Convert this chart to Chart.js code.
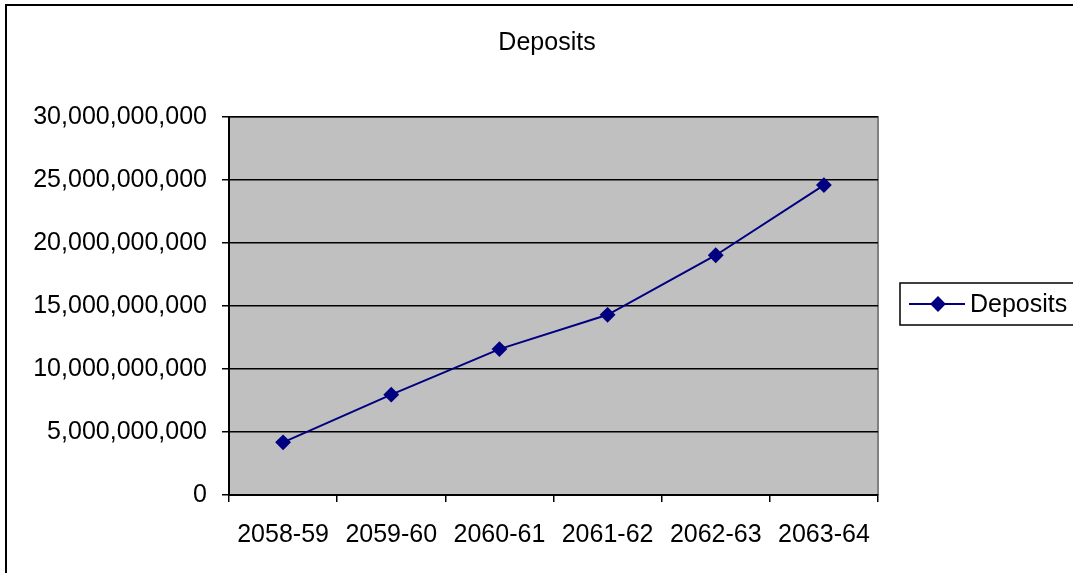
<!DOCTYPE html>
<html>
<head>
<meta charset="utf-8">
<script src="https://cdn.jsdelivr.net/npm/chart.js@4"></script>
<style>
html,body{margin:0;padding:0;background:#fff;}
#wrap{width:1073px;height:573px;position:relative;}
</style>
</head>
<body>
<div id="wrap"><canvas id="c" width="1073" height="573"></canvas></div>
<script>
const categories = ["2058-59","2059-60","2060-61","2061-62","2062-63","2063-64"];
const deposits = [4180000000, 7960000000, 11580000000, 14300000000, 19030000000, 24600000000];
const yTicks = [0, 5000000000, 10000000000, 15000000000, 20000000000, 25000000000, 30000000000];
const titleText = "Deposits";
const seriesName = "Deposits";

const FONT = "'Liberation Sans', Arial, sans-serif";
const FSIZE = 25;
const NAVY = "#000080";

const framePlugin = {
  id: 'frame',
  beforeDraw(chart) {
    const ctx = chart.ctx, a = chart.chartArea;
    ctx.save();
    ctx.fillStyle = '#ffffff';
    ctx.fillRect(0, 0, chart.width, chart.height);
    ctx.fillStyle = '#C0C0C0';
    ctx.fillRect(a.left, a.top, a.right - a.left, a.bottom - a.top);
    ctx.strokeStyle = '#808080';
    ctx.lineWidth = 2;
    ctx.beginPath();
    ctx.moveTo(a.left, a.top);
    ctx.lineTo(a.right, a.top);
    ctx.lineTo(a.right, a.bottom);
    ctx.stroke();
    // outer chart border
    ctx.strokeStyle = '#000';
    ctx.lineWidth = 2;
    ctx.strokeRect(6, 5, 1200, 700);
    ctx.restore();
  },
  afterDraw(chart) {
    const ctx = chart.ctx;
    ctx.save();
    // title
    ctx.fillStyle = '#000';
    ctx.font = FSIZE + 'px ' + FONT;
    ctx.textAlign = 'center';
    ctx.textBaseline = 'middle';
    ctx.fillText(titleText, 547, 43);
    // legend
    const ds = chart.data.datasets[0];
    ctx.strokeStyle = '#000';
    ctx.lineWidth = 1.5;
    ctx.strokeRect(900, 283, 300, 42);
    ctx.strokeStyle = ds.borderColor;
    ctx.lineWidth = 2;
    ctx.beginPath();
    ctx.moveTo(909, 304);
    ctx.lineTo(965, 304);
    ctx.stroke();
    Chart.helpers.drawPoint(ctx, {pointStyle: 'rectRot', radius: 6.5, borderWidth: 1}, 938, 304);
    ctx.fillStyle = ds.pointBackgroundColor;
    ctx.fill();
    ctx.fillStyle = '#000';
    ctx.textAlign = 'left';
    ctx.fillText(seriesName, 970, 305);
    ctx.restore();
  }
};

new Chart(document.getElementById('c'), {
  type: 'line',
  data: {
    labels: categories,
    datasets: [{
      label: seriesName,
      data: deposits,
      borderColor: NAVY,
      backgroundColor: NAVY,
      pointBackgroundColor: NAVY,
      pointBorderColor: NAVY,
      borderWidth: 2,
      pointStyle: 'rectRot',
      pointRadius: 6.5,
      pointHoverRadius: 6.5,
      tension: 0
    }]
  },
  options: {
    responsive: false,
    animation: false,
    events: [],
    layout: { padding: { left: 0, top: 117, right: 195, bottom: 0 } },
    plugins: { legend: { display: false }, title: { display: false }, tooltip: { enabled: false } },
    scales: {
      x: {
        type: 'category',
        offset: true,
        afterFit(s) { s.height = 78; },
        grid: { offset: true, drawOnChartArea: false, drawTicks: true, tickLength: 7, color: '#000', lineWidth: 1.5 },
        border: { display: true, color: '#000', width: 2 },
        ticks: { color: '#000', font: { family: FONT, size: FSIZE }, padding: 18, maxRotation: 0, autoSkip: false }
      },
      y: {
        min: 0, max: 30000000000,
        afterFit(s) { s.width = 229; },
        afterBuildTicks(s) { s.ticks = yTicks.map(v => ({ value: v })); },
        grid: { color: '#000', lineWidth: 1.5, drawTicks: true, tickLength: 7 },
        border: { display: true, color: '#000', width: 2 },
        ticks: {
          color: '#000', font: { family: FONT, size: FSIZE }, padding: 15,
          callback: v => Number(v).toLocaleString('en-US')
        }
      }
    }
  },
  plugins: [framePlugin]
});
</script>
</body>
</html>
